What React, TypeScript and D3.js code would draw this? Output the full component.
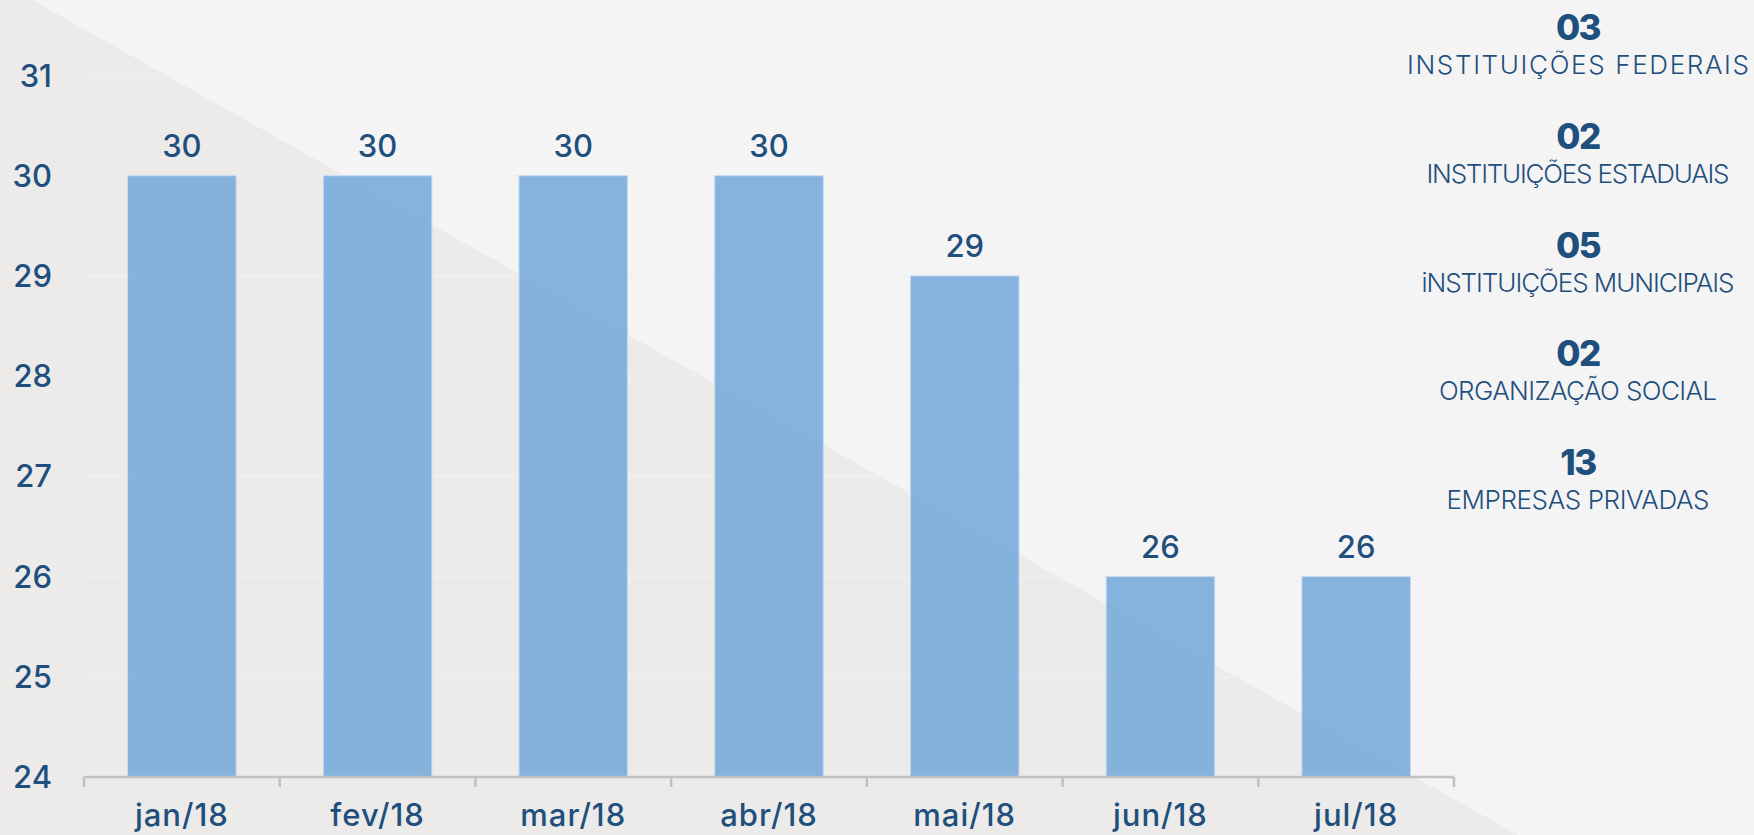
import * as d3 from "d3"
import React, { useEffect, useRef } from "react"

// chart data
const months = ["jan/18", "fev/18", "mar/18", "abr/18", "mai/18", "jun/18", "jul/18"]
const counts = [30, 30, 30, 30, 29, 26, 26]
const yTicks = [24, 25, 26, 27, 28, 29, 30, 31]

// legend on the right
const legendNumbers = ["03", "02", "05", "02", "13"]
const legendLabels = [
    "INSTITUIÇÕES FEDERAIS",
    "INSTITUIÇÕES ESTADUAIS",
    "iNSTITUIÇÕES MUNICIPAIS",
    "ORGANIZAÇÃO SOCIAL",
    "EMPRESAS PRIVADAS",
]
const legendLabelWidths = [342, 303, 313, 278, 263]

const W = 1754
const H = 835
const blue = "#1f4f7d"
const numFont = "Inter, 'Open Sans', sans-serif"

const App = () => {
    const refSvg = useRef<SVGSVGElement>(null)

    useEffect(() => {
        document.body.style.margin = "0"
        const svg = d3.select(refSvg.current)
        svg.selectAll("*").remove()

        // background with the darker diagonal triangle
        svg.append("rect").attr("width", W).attr("height", H).attr("fill", "#f4f4f4")
        svg.append("path")
            .attr("d", `M0,0 L32,0 L1518,${H} L0,${H} Z`)
            .attr("fill", "#ecebe9")

        const scaleX = d3.scaleBand<string>()
            .domain(months)
            .range([84, 1454])
            .paddingInner(0.445)
            .paddingOuter(0.2225)
        const scaleY = d3.scaleLinear()
            .domain([24, 31])
            .range([777, 75.5])

        // grid lines
        svg.append("g")
            .selectAll("line")
            .data(yTicks.filter(t => t > 24))
            .join("line")
            .attr("x1", 84).attr("x2", 1454)
            .attr("y1", d => scaleY(d)).attr("y2", d => scaleY(d))
            .attr("stroke", "#f0f0f0")
            .attr("stroke-width", 1.5)

        // y labels
        svg.append("g")
            .selectAll("text")
            .data(yTicks)
            .join("text")
            .attr("x", 52)
            .attr("y", d => scaleY(d) + 11)
            .attr("text-anchor", "end")
            .attr("font-family", numFont)
            .attr("font-weight", 500)
            .attr("font-size", 31)
            .attr("fill", blue)
            .text(d => d)

        // bars
        svg.append("g")
            .selectAll("rect")
            .data(counts)
            .join("rect")
            .attr("x", (d, i) => scaleX(months[i])!)
            .attr("y", d => scaleY(d))
            .attr("width", scaleX.bandwidth())
            .attr("height", d => scaleY(24) - scaleY(d))
            .attr("fill", "#7aabdc")
            .attr("fill-opacity", 0.9)
            .attr("stroke", "#c8dcf0")
            .attr("stroke-width", 1)

        // value labels
        svg.append("g")
            .selectAll("text")
            .data(counts)
            .join("text")
            .attr("x", (d, i) => scaleX(months[i])! + scaleX.bandwidth() / 2)
            .attr("y", d => scaleY(d) - 19)
            .attr("text-anchor", "middle")
            .attr("font-family", numFont)
            .attr("font-weight", 500)
            .attr("font-size", 31)
            .attr("fill", blue)
            .text(d => d)

        // x axis
        const step = scaleX.step()
        const gAxis = svg.append("g")
        gAxis.append("line")
            .attr("x1", 84).attr("x2", 1454)
            .attr("y1", 777).attr("y2", 777)
            .attr("stroke", "#c2c1c0")
            .attr("stroke-width", 2.5)
        gAxis.selectAll(".tick")
            .data(d3.range(months.length + 1))
            .join("line")
            .attr("class", "tick")
            .attr("x1", i => 84 + i * step).attr("x2", i => 84 + i * step)
            .attr("y1", 777).attr("y2", 787)
            .attr("stroke", "#c2c1c0")
            .attr("stroke-width", 2.5)
        gAxis.selectAll(".xlabel")
            .data(months)
            .join("text")
            .attr("class", "xlabel")
            .attr("x", d => scaleX(d)! + scaleX.bandwidth() / 2)
            .attr("y", 826)
            .attr("text-anchor", "middle")
            .attr("font-family", numFont)
            .attr("font-weight", 500)
            .attr("font-size", 31)
            .attr("letter-spacing", 1)
            .attr("fill", blue)
            .text(d => d)

        // legend
        const gLegend = svg.append("g")
        gLegend.selectAll(".num")
            .data(legendNumbers)
            .join("text")
            .attr("class", "num")
            .attr("x", 1578)
            .attr("y", (d, i) => 40 + i * 108.75)
            .attr("text-anchor", "middle")
            .attr("font-family", numFont)
            .attr("font-weight", 800)
            .attr("font-size", 35)
            .attr("letter-spacing", -1.5)
            .attr("fill", blue)
            .text(d => d)
        const labels = gLegend.selectAll<SVGTextElement, string>(".lab")
            .data(legendLabels)
            .join("text")
            .attr("class", "lab")
            .attr("y", (d, i) => 74 + i * 108.75)
            .attr("text-anchor", "start")
            .attr("font-family", numFont)
            .attr("font-weight", 300)
            .attr("font-size", 26)
            .attr("fill", blue)
            .text(d => d)
        // squeeze or spread each label to the width seen in the picture
        labels.each(function (d, i) {
            const natural = this.getComputedTextLength()
            const target = legendLabelWidths[i]
            const ls = (target - natural) / Math.max(1, d.length - 1)
            d3.select(this)
                .attr("letter-spacing", ls)
                .attr("x", 1578 - target / 2)
        })
    }, [])

    return <svg ref={refSvg} width={W} height={H} style={{ display: "block" }}></svg>
}

export default App
